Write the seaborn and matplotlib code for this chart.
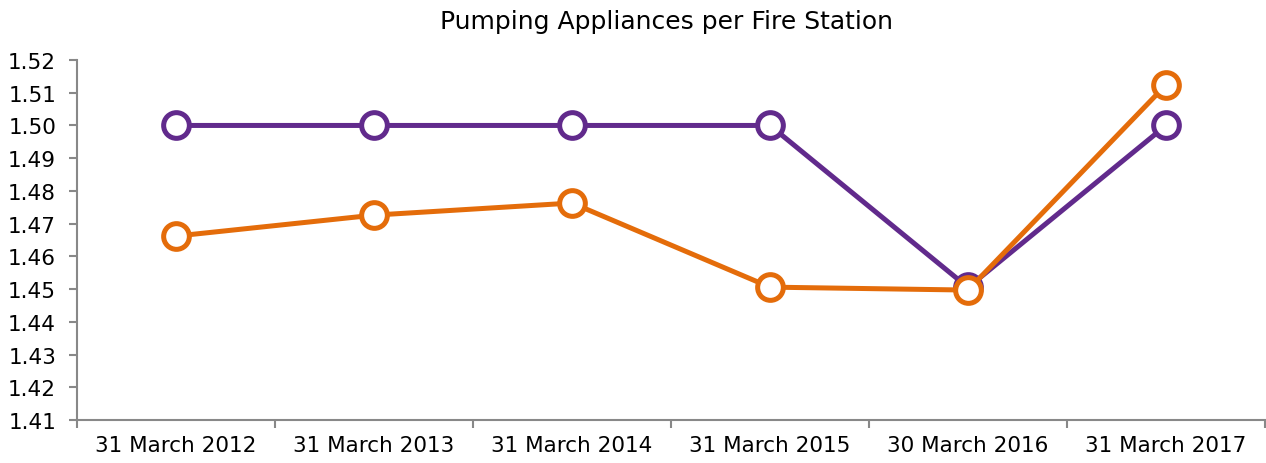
import numpy as np
import pandas as pd
import matplotlib
matplotlib.use("Agg")
import matplotlib.pyplot as plt
import seaborn as sns

# data
dates = ["31 March 2012", "31 March 2013", "31 March 2014",
         "31 March 2015", "30 March 2016", "31 March 2017"]
purple_vals = [1.500, 1.500, 1.500, 1.500, 1.4505, 1.500]
orange_vals = [1.4662, 1.4726, 1.4763, 1.4506, 1.4497, 1.5124]

df = pd.DataFrame({
    "date": dates * 2,
    "value": purple_vals + orange_vals,
    "series": ["purple"] * 6 + ["orange"] * 6,
})

sns.set_style("white")
plt.rcParams["font.family"] = ["DejaVu Sans"]
plt.rcParams["text.color"] = "black"

fig = plt.figure(figsize=(12.66, 4.64), dpi=100)
ax = fig.add_axes([77 / 1266, 1 - 421 / 464, 1188 / 1266, 360 / 464])

pal = {"purple": "#612a8c", "orange": "#e46c0a"}
sns.lineplot(data=df, x="date", y="value", hue="series", palette=pal,
             sort=False, linewidth=3.6, marker="o", markersize=18.5,
             markerfacecolor="white", markeredgewidth=3.6, legend=False, ax=ax)
# marker rings take the line colour, orange on top
for ln, z in zip(ax.lines, [2, 3]):
    ln.set_zorder(z)
    ln.set_clip_on(False)
    ln.set_markeredgecolor(ln.get_color())

ax.set_xlim(-0.5, 5.5)
ax.set_ylim(1.41, 1.52)
yt = np.arange(1.41, 1.5201, 0.01)
ax.set_yticks(yt)
ax.set_yticklabels([f"{v:.2f}" for v in yt])
ax.set_xticks(range(6))
ax.set_xticklabels(dates)
ax.set_xticks(np.arange(-0.5, 6, 1), minor=True)
ax.tick_params(axis="x", which="major", length=0, labelsize=15.5, pad=11, labelcolor="black")
ax.tick_params(axis="x", which="minor", length=6, width=1.5, direction="out",
               color="#888888", bottom=True)
ax.tick_params(axis="y", length=6, width=1.5, direction="out", color="#888888",
               labelsize=15.5, left=True, pad=9, labelcolor="black")
ax.set_xlabel("")
ax.set_ylabel("")
for s in ["top", "right"]:
    ax.spines[s].set_visible(False)
for s in ["left", "bottom"]:
    ax.spines[s].set_color("#888888")
    ax.spines[s].set_linewidth(1.5)

fig.text(667 / 1266, 1 - 22 / 464, "Pumping Appliances per Fire Station",
         ha="center", va="center", fontsize=18, color="black")

fig.savefig("out.png", dpi=100)
